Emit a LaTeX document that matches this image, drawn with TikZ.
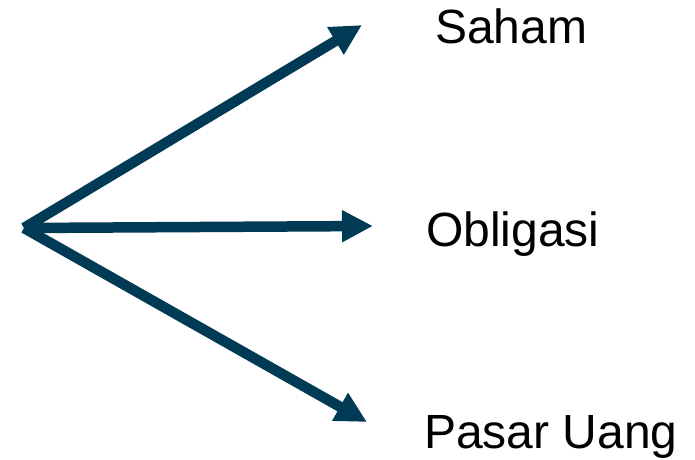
\documentclass[tikz,border=0pt]{standalone}
\usepackage{fontspec}
\setmainfont{Liberation Sans}
\usetikzlibrary{arrows.meta}
\definecolor{arrowblue}{RGB}{0,58,84}
\begin{document}
\begin{tikzpicture}[x=1pt,y=-1pt,
  branch/.style={draw=arrowblue, line width=10.5pt, line cap=butt,
    -{Triangle[length=31pt,width=30pt]}},
  label/.style={anchor=base west, inner sep=0pt, outer sep=0pt,
    font=\fontsize{48}{57}\selectfont}]
\useasboundingbox (0,0) rectangle (695,459);
\coordinate (o) at (24,228);
\coordinate (top) at (362,25);
\coordinate (mid) at (373,226);
\coordinate (bot) at (367,422);
\draw[branch] (o) -- (top);
\draw[branch] (o) -- (mid);
\draw[branch] (o) -- (bot);
\node[label] (saham) at (435,43) {Saham};
\node[label] (obl) at (426,246) {Obligasi};
\node[label] (pasar) at (424,448) {Pasar Uang};
\end{tikzpicture}
\end{document}
